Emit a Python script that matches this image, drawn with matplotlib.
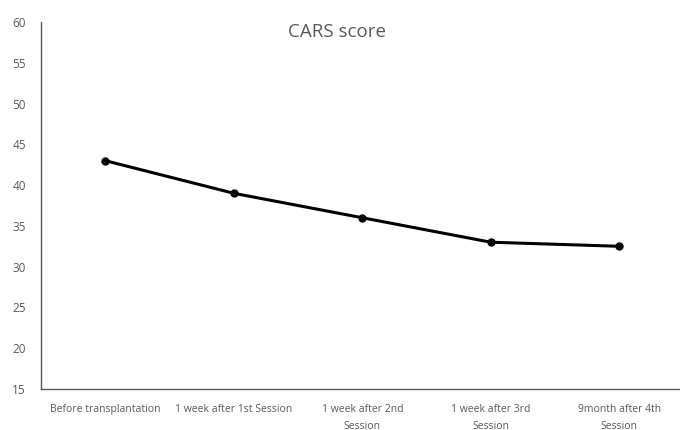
import matplotlib.pyplot as plt

plt.rcParams['font.family'] = ['Open Sans', 'DejaVu Sans']

categories = ["Before transplantation", "1 week after 1st Session",
              "1 week after 2nd\nSession", "1 week after 3rd\nSession",
              "9month after 4th\nSession"]
cars = [43, 39, 36, 33, 32.5]

fig = plt.figure(figsize=(6.8, 4.3), dpi=100)
ax = fig.add_axes([0.0603, 0.0953, 0.945, 0.8535])

ax.plot(range(len(cars)), cars, color='black', linewidth=2.2,
        marker='o', markersize=5)

ax.set_xlim(-0.5, len(cars) - 0.5)
ax.set_ylim(15, 60)
ax.set_yticks(range(15, 61, 5))
ax.set_xticks(range(len(cars)))
ax.set_xticklabels(categories, linespacing=1.75)

for s in ['top', 'right']:
    ax.spines[s].set_visible(False)
for s in ['left', 'bottom']:
    ax.spines[s].set_color('#595959')
    ax.spines[s].set_linewidth(1.0)

ax.tick_params(axis='both', length=0, colors='#595959')
ax.tick_params(axis='x', labelsize=7.5, pad=11)
ax.tick_params(axis='y', labelsize=8.5, pad=11)

fig.text(0.495, 0.925, "CARS score", fontsize=13.5, color='#595959',
         ha='center', va='center')

fig.savefig('out.png', dpi=100)
